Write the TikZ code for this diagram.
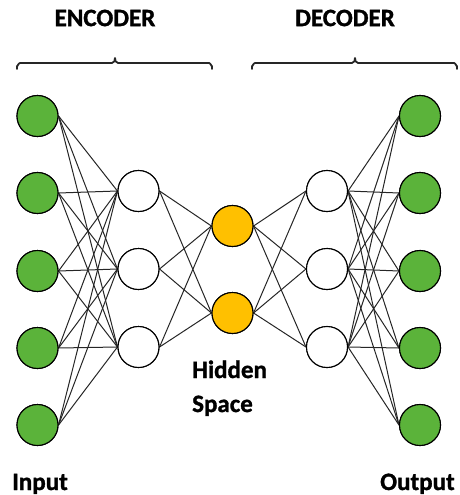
\documentclass[tikz,border=0pt]{standalone}
\usepackage{fontspec}
\setmainfont{Carlito}[BoldFeatures={FakeBold=1.2}]
\usetikzlibrary{calc}
\begin{document}
\begin{tikzpicture}[x=1pt,y=-1pt,
  neuron/.style={circle,draw=black,line width=1.1pt,minimum size=41pt,inner sep=0pt},
  io/.style={neuron,fill=ioGreen},
  hid/.style={neuron,fill=white},
  lat/.style={neuron,fill=latGold},
  link/.style={draw=black!85,line width=1pt},
  bracket/.style={draw=black!85,line width=1.8pt,line cap=round,line join=round},
  lbl/.style={font=\fontsize{25}{30}\selectfont\bfseries,inner sep=0pt}]
\definecolor{ioGreen}{HTML}{5BB33A}
\definecolor{latGold}{HTML}{FFC000}
\useasboundingbox (0,0) rectangle (460,495);

% layers
\foreach \y [count=\i] in {116,193,271,348,425} {
  \node[io] (in\i) at (37.5,\y) {};
  \node[io] (out\i) at (420,\y) {};
}
\foreach \y [count=\i] in {191,269,347} {
  \node[hid] (e\i) at (138.5,\y) {};
  \node[hid] (d\i) at (327,\y) {};
}
\node[lat] (z1) at (232.5,226) {};
\node[lat] (z2) at (232.5,313) {};

% fully connected links
\foreach \i in {1,...,5} \foreach \j in {1,2,3} {
  \path[link] (in\i.east) -- (e\j.west);
  \path[link] (d\j.east) -- (out\i.west);
}
\foreach \j in {1,2,3} \foreach \k in {1,2} {
  \path[link] (e\j.east) -- (z\k.west);
  \path[link] (z\k.east) -- (d\j.west);
}

% redraw nodes on top of links
\foreach \i in {1,...,5} {
  \node[io] at (in\i) {};
  \node[io] at (out\i) {};
}
\foreach \i in {1,2,3} {
  \node[hid] at (e\i) {};
  \node[hid] at (d\i) {};
}
\node[lat] at (z1) {};
\node[lat] at (z2) {};

% brackets
\coordinate (encL) at (17,69);
\coordinate (encM) at (115,58);
\coordinate (encR) at (212,69);
\coordinate (decL) at (252,69);
\coordinate (decM) at (355,58);
\coordinate (decR) at (457,69);
\draw[bracket] (encL) -- ++(0,-3) to[out=-90,in=180] ++(3,-3) -- ($(encM)+(-3,5)$)
  to[out=0,in=-90] (encM) to[out=-90,in=180] ($(encM)+(3,5)$) -- ($(encR)+(-3,-6)$)
  to[out=0,in=-90] ++(3,3) -- (encR);
\draw[bracket] (decL) -- ++(0,-3) to[out=-90,in=180] ++(3,-3) -- ($(decM)+(-3,5)$)
  to[out=0,in=-90] (decM) to[out=-90,in=180] ($(decM)+(3,5)$) -- ($(decR)+(-3,-6)$)
  to[out=0,in=-90] ++(3,3) -- (decR);

% labels
\node[lbl] (enc) at (105,18) {ENCODER};
\node[lbl] (dec) at (345,18) {DECODER};
\node[lbl,anchor=base west] (hid1) at (192,378) {Hidden};
\node[lbl,anchor=base west] (hid2) at (192,412) {Space};
\node[lbl,anchor=base west] (inl) at (12,490) {Input};
\node[lbl,anchor=base west] (outl) at (380,490) {Output};
\end{tikzpicture}
\end{document}
